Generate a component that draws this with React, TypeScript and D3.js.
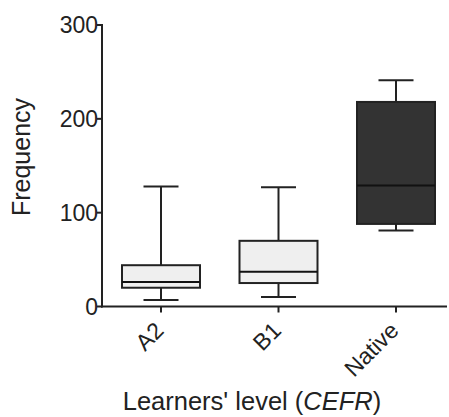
import React from "react"
import * as d3 from "d3"

// learners' level groups
const categories = ["A2", "B1", "Native"]
// box plot stats: min, q1, median, q3, max
const mins = [7, 10, 81]
const q1s = [20, 25, 88]
const medians = [26, 37, 129]
const q3s = [44, 70, 218]
const maxs = [128, 127, 241]
const fills = ["#efefef", "#efefef", "#333333"]
const yTicks = [0, 100, 200, 300]

const W = 449
const H = 417
const ink = "#222"
const font = "'Liberation Sans', Arial, Helvetica, sans-serif"

const App = () => {
  const y = d3.scaleLinear().domain([0, 300]).range([306.5, 25])
  const x = d3.scalePoint<string>().domain(categories).range([161, 396])

  const boxW = 78
  const capW = 35
  const axisX = 102
  const axisY = y(0)

  const boxes = categories.map((c, i) => ({
    name: c,
    min: mins[i],
    q1: q1s[i],
    med: medians[i],
    q3: q3s[i],
    max: maxs[i],
    fill: fills[i],
  }))

  return (
    <svg
      width={W}
      height={H}
      style={{ position: "absolute", left: 0, top: 0, background: "#fff" }}
      fontFamily={font}
    >
      {/* boxes */}
      {boxes.map((b) => {
        const cx = x(b.name) as number
        return (
          <g key={b.name} stroke={ink} strokeWidth={2}>
            <line x1={cx} x2={cx} y1={y(b.max)} y2={y(b.q3)} />
            <line x1={cx} x2={cx} y1={y(b.q1)} y2={y(b.min)} />
            <line x1={cx - capW / 2} x2={cx + capW / 2} y1={y(b.max)} y2={y(b.max)} />
            <line x1={cx - capW / 2} x2={cx + capW / 2} y1={y(b.min)} y2={y(b.min)} />
            <rect
              x={cx - boxW / 2}
              y={y(b.q3)}
              width={boxW}
              height={y(b.q1) - y(b.q3)}
              fill={b.fill}
            />
            <line
              x1={cx - boxW / 2}
              x2={cx + boxW / 2}
              y1={y(b.med)}
              y2={y(b.med)}
              stroke="#111"
            />
          </g>
        )
      })}

      {/* y axis */}
      <line x1={axisX} x2={axisX} y1={y(300) - 1} y2={axisY + 1} stroke={ink} strokeWidth={2} />
      {yTicks.map((t) => (
        <g key={t}>
          <line x1={axisX - 5} x2={axisX} y1={y(t)} y2={y(t)} stroke={ink} strokeWidth={2} />
          <text
            x={axisX - 4}
            y={y(t)}
            dy="0.36em"
            textAnchor="end"
            fontSize={23}
            fill={ink}
          >
            {t}
          </text>
        </g>
      ))}
      <text
        transform={`translate(30, 157) rotate(-90)`}
        textAnchor="middle"
        fontSize={25}
        fill={ink}
      >
        Frequency
      </text>

      {/* x axis */}
      <line x1={axisX - 1} x2={447} y1={axisY} y2={axisY} stroke={ink} strokeWidth={2} />
      {categories.map((c) => {
        const cx = x(c) as number
        return (
          <g key={c}>
            <line x1={cx} x2={cx} y1={axisY} y2={axisY + 6} stroke={ink} strokeWidth={2} />
            <text
              transform={`translate(${cx + 4}, 332) rotate(-45)`}
              textAnchor="end"
              fontSize={23}
              fill={ink}
            >
              {c}
            </text>
          </g>
        )
      })}
      <text x={252} y={410} textAnchor="middle" fontSize={25.5} fill={ink}>
        Learners' level (<tspan fontStyle="italic">CEFR</tspan>)
      </text>
    </svg>
  )
}

export default App
